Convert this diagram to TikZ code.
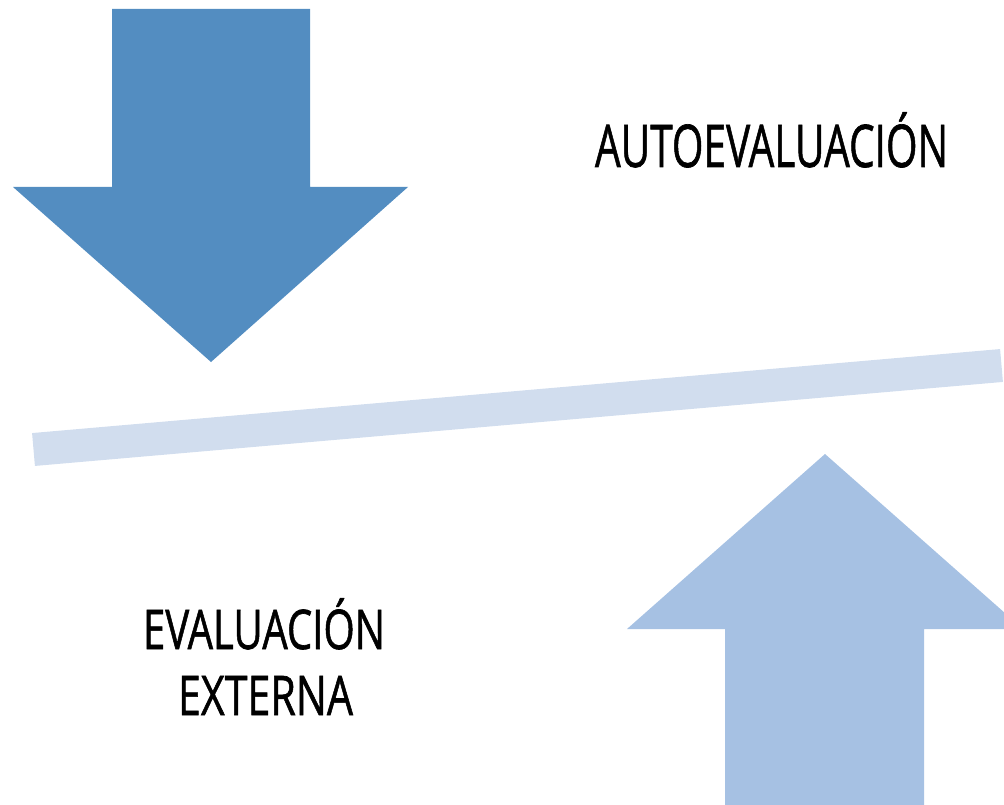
\documentclass[tikz,border=0pt]{standalone}
\usepackage{fontspec}
\usepackage{graphicx}
\newfontfamily\condfont[FakeBold=1.2]{Open Sans}
\definecolor{darkblue}{RGB}{83,141,193}
\definecolor{lightblue}{RGB}{166,193,227}
\definecolor{barblue}{RGB}{209,221,238}
\tikzset{
  lbl/.style={inner sep=0pt, outer sep=0pt, anchor=base west, text=black},
}
\newcommand{\captext}[3]{\resizebox{#1}{#2}{\condfont\smash{#3}\vphantom{E}}}
\begin{document}
\begin{tikzpicture}[x=1pt,y=-1pt]
\useasboundingbox (0,0) rectangle (1004,805);
\clip (0,0) rectangle (1004,805);
% down arrow
\fill[darkblue] (112,9) -- (310,9) -- (310,187) -- (408,187) -- (211,362) -- (13,187) -- (112,187) -- cycle;
% bar
\coordinate (barL) at (33.5,449.5);
\coordinate (barR) at (1001.5,365.5);
\draw[barblue, line width=33pt, line cap=butt] (barL) -- (barR);
% up arrow
\fill[lightblue] (725,805) -- (924,805) -- (924,629) -- (1023,629) -- (825,454) -- (627,629) -- (725,629) -- cycle;
% texts
\node[lbl] (auto) at (595,167) {\captext{353pt}{42pt}{AUTOEVALUACIÓN}};
\node[lbl] (eval) at (143,649) {\captext{242pt}{39pt}{EVALUACIÓN}};
\node[lbl] (ext) at (178,715) {\captext{175pt}{39pt}{EXTERNA}};
\end{tikzpicture}
\end{document}
